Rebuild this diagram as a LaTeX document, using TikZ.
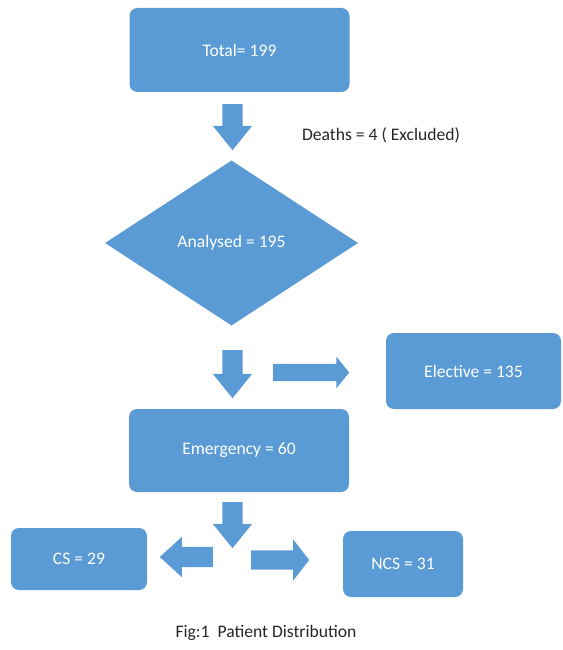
\documentclass[tikz,border=0pt]{standalone}
\usepackage{fontspec}
\setmainfont{Carlito}
\usetikzlibrary{shapes.geometric,shapes.arrows}
\definecolor{boxblue}{RGB}{91,155,213}

\begin{document}
\begin{tikzpicture}[x=1pt,y=-1pt]
		\newcommand{\flow}{232.5} % x of the main flow
		\newcommand{\txtsize}{\fontsize{17.6}{20}\selectfont}

		% set the style of the boxes and the block arrows
		\tikzset{
			box/.style={
				rectangle,
				rounded corners=8pt,
				fill=boxblue,
				text=white,
				inner sep=0pt,
				font=\txtsize
				},
			blockarr/.style={
				single arrow,
				fill=boxblue,
				inner xsep=0pt,
				anchor=tail
				},
			% down arrows: the shaft width comes from the x separation
			downarr/.style={
				single arrow,
				fill=boxblue,
				shape border rotate=270,
				inner xsep=10pt,
				inner ysep=0pt,
				single arrow head extend=9.5pt,
				single arrow tip angle=78,
				anchor=tail
				}
		}

		\useasboundingbox (0,0) rectangle (562,650);

		% boxes
		\node[box, minimum width=220pt, minimum height=84pt] (total) at (239.5,50) {Total= 199};
		\node[diamond, fill=boxblue, text=white, inner sep=0pt, font=\txtsize,
			minimum width=253pt, minimum height=165pt] (analysed) at (231.5,243) {Analysed = 195};
		\node[box, minimum width=175pt, minimum height=76pt] (elective) at (473.5,371) {Elective = 135};
		\node[box, minimum width=220pt, minimum height=83pt] (emergency) at (239,450.5) {Emergency = 60};
		\node[box, minimum width=136pt, minimum height=62pt] (cs) at (79,559) {CS = 29};
		\node[box, minimum width=120pt, minimum height=66pt] (ncs) at (403,564) {NCS = 31};

		% block arrows
		\node[downarr, minimum height=46pt] (arrTotal) at (\flow,104) {};
		\node[downarr, minimum height=48pt] (arrAnalysed) at (\flow,350) {};
		\node[blockarr, inner ysep=8.5pt, single arrow head extend=7pt,
			single arrow tip angle=102, minimum height=76pt] (arrElective) at (273,372.5) {};
		\node[downarr, minimum height=46pt] (arrEmergency) at (\flow,502) {};
		\node[blockarr, shape border rotate=180, inner ysep=10pt, single arrow head extend=10pt,
			single arrow tip angle=85, minimum height=53pt] (arrCS) at (213,557) {};
		\node[blockarr, inner ysep=9.5pt, single arrow head extend=11pt,
			single arrow tip angle=104, minimum height=58pt] (arrNCS) at (251,560) {};

		% texts
		\node[font=\txtsize, text=black!85] (deaths) at (381,135) {Deaths = 4 ( Excluded)};
		\node[font=\txtsize, text=black!85] (caption) at (266,633) {Fig:1\ \ Patient Distribution};

\end{tikzpicture}
\end{document}
